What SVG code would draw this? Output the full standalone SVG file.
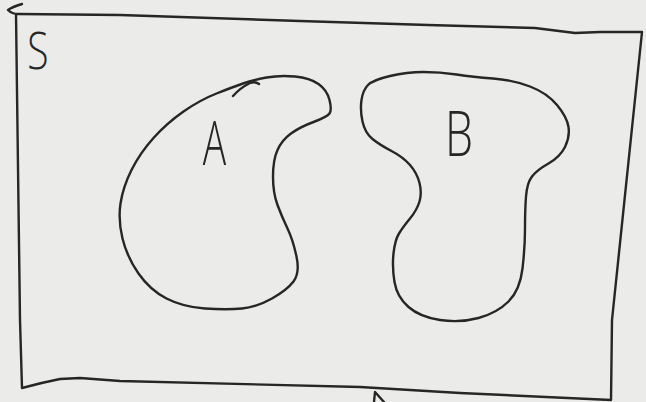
<svg xmlns="http://www.w3.org/2000/svg" width="646" height="402" viewBox="0 0 646 402">
  <style>
    .ink { fill: none; stroke: #262626; stroke-width: 2.4; stroke-linecap: round; stroke-linejoin: round; }
    .lbl { font-family: "Open Sans", "Liberation Sans", sans-serif; font-weight: 300; fill: #262626; text-anchor: middle; }
  </style>
  <rect width="646" height="402" fill="#ebebe9"/>
  <g id="S">
    <path class="ink" d="M 22,4 Q 12,7 8,10 Q 12,14 18,14 L 120,15 L 300,21 L 428,25 L 535,28 L 575,33 L 600,32 L 642,32 L 637,80 L 612,320 L 611,400 L 460,393 L 360,387 L 120,381 L 80,378 L 60,379 Q 40,383 22,388 L 20,320 L 16,14"/>
    <text class="lbl" transform="translate(38,69) scale(0.75,1)" font-size="52">S</text>
  </g>
  <g id="A">
    <path class="ink" d="M 266.5,77.5 Q 280,75 295,76.5 Q 310,78 318.5,84 Q 327,90 329.5,100 Q 332,110 329.5,113.5 Q 327,117 313.5,122 Q 300,127 291,133.5 Q 282,140 277.5,150 Q 273,160 273,176.5 Q 273,193 277.5,205 Q 282,217 287.5,228.5 Q 293,240 296.5,256.5 Q 300,273 293.5,281.5 Q 287,290 272,298.5 Q 257,307 242,308.5 Q 227,310 205,308.5 Q 183,307 166.5,298.5 Q 150,290 138.5,273.5 Q 127,257 122.5,238.5 Q 118,220 120.5,203.5 Q 123,187 131.5,170 Q 140,153 153.5,138 Q 167,123 183.5,111.5 Q 200,100 216.5,93.5 Q 233,87 243,83.5 Q 253,80 266.5,77.5 Z"/>
    <path class="ink" d="M 233,96 Q 240,88 250,83 Q 255,81 259,84"/>
    <text class="lbl" transform="translate(214.5,165) scale(0.65,1)" font-size="60">A</text>
  </g>
  <g id="B">
    <path class="ink" d="M 390,76 Q 407,72 423.5,72 Q 440,72 456.5,74.5 Q 473,77 493,78.5 Q 513,80 530,86.5 Q 547,93 557,105 Q 567,117 568.5,127 Q 570,137 565,147 Q 560,157 548.5,163.5 Q 537,170 532,176.5 Q 527,183 526,196.5 Q 525,210 525,228.5 Q 525,247 522.5,268.5 Q 520,290 508.5,301.5 Q 497,313 478.5,318 Q 460,323 440,320 Q 420,317 408.5,307 Q 397,297 394.5,282 Q 392,267 393.5,253.5 Q 395,240 399,233.5 Q 403,227 410,218.5 Q 417,210 419.5,201.5 Q 422,193 419.5,183 Q 417,173 410,165 Q 403,157 391.5,151 Q 380,145 372.5,139 Q 365,133 362.5,121.5 Q 360,110 361.5,100 Q 363,90 368,85 Q 373,80 390,76 Z"/>
    <text class="lbl" transform="translate(459,156) scale(0.72,1)" font-size="62">B</text>
  </g>
  <g id="connectors">
    <path class="ink" d="M 374,402 L 375,392 L 384,402"/>
  </g>
</svg>
